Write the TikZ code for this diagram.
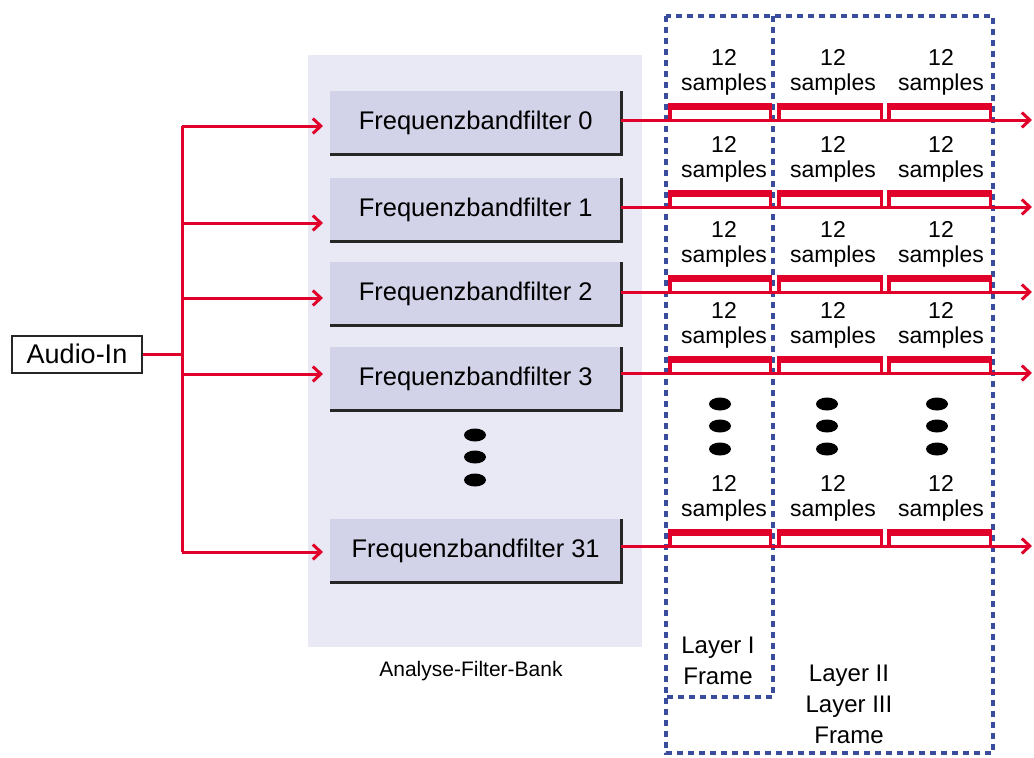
\documentclass[tikz,border=0pt]{standalone}
\usepackage{fontspec}
\setmainfont{Liberation Sans}
\usetikzlibrary{arrows.meta}
\definecolor{rd}{HTML}{E0002A}
\definecolor{bl}{HTML}{3A4C9C}
\definecolor{bankbg}{HTML}{E9E9F5}
\definecolor{filt}{HTML}{D2D2E8}
\begin{document}
\begin{tikzpicture}[x=1pt,y=-1pt,
  filterbox/.style={fill=filt, minimum width=291pt, minimum height=63pt, inner sep=0pt,
    font=\fontsize{25.5}{30}\selectfont, anchor=north west},
  shade edge/.style={draw=black!85, line width=2.2pt},
  redarrow/.style={draw=rd, line width=3pt, -{Straight Barb[length=8pt,width=15pt]}},
  redline/.style={draw=rd, line width=3pt},
  dsh/.style={draw=bl, line width=3.2pt, dash pattern=on 6pt off 5pt},
  smp/.style={align=center, font=\fontsize{23}{25}\selectfont, inner sep=0pt},
  lbl/.style={align=center, font=\fontsize{24}{31}\selectfont, inner sep=0pt},
  dot/.style={fill=black}
]
\useasboundingbox (0,0) rectangle (1034,758);
\fill[white] (0,0) rectangle (1034,758);

% filter bank background
\fill[bankbg] (308,55) rectangle (642,647);
\node[font=\fontsize{21}{25}\selectfont, inner sep=0pt] (banklbl) at (471,671) {Analyse-Filter-Bank};

% filter boxes
\node[filterbox] (f0) at (330,91) {Frequenzbandfilter 0};
\node[filterbox] (f1) at (330,178) {Frequenzbandfilter 1};
\node[filterbox] (f2) at (330,262) {Frequenzbandfilter 2};
\node[filterbox] (f3) at (330,347) {Frequenzbandfilter 3};
\node[filterbox] (f31) at (330,519) {Frequenzbandfilter 31};
\foreach \f in {f0,f1,f2,f3,f31}{
  \draw[shade edge] (\f.north east) -- (\f.south east) -- (\f.south west);
}

% dots in bank
\foreach \yy in {435,457,480}{
  \fill[dot] (475,\yy) ellipse [x radius=11pt, y radius=6.5pt];
}

% audio in
\node[draw=black!85, line width=2pt, minimum width=130pt, minimum height=37pt, inner sep=0pt,
  font=\fontsize{27}{30}\selectfont] (audio) at (77,354) {Audio-In};
\coordinate (split) at (182,354);
\coordinate (stop) at (182,126);
\coordinate (sbot) at (182,552);
\draw[redline] (audio.east) -- (split);
\draw[redline] (stop) -- (sbot);
\draw[redarrow, shorten >=7pt] (182,126) -- (f0.west |- 0,126);
\draw[redarrow, shorten >=7pt] (182,223) -- (f1.west |- 0,223);
\draw[redarrow, shorten >=7pt] (182,298) -- (f2.west |- 0,298);
\draw[redarrow, shorten >=7pt] (182,374) -- (f3.west |- 0,374);
\draw[redarrow, shorten >=7pt] (sbot) -- (f31.west |- sbot);

% dashed frames
\draw[dsh] (666,16) rectangle (993,753);
\draw[dsh] (773,16) -- (773,697) -- (666,697);

% sample brackets and labels
\foreach \L/\f in {120/f0,207/f1,292/f2,373/f3,546/f31}{
  \foreach \a/\b/\c in {668/772/724,777/883/833,887/992/941}{
    \fill[rd] (\a,\L-17) rectangle (\b,\L-10);
    \draw[rd, line width=3.5pt] (\a+1.75,\L-11) -- (\a+1.75,\L);
    \draw[rd, line width=3.5pt] (\b-1.75,\L-11) -- (\b-1.75,\L);
    \node[smp] at (\c,\L-48) {12\\samples};
  }
  \draw[redarrow] (\f.east |- 0,\L) -- (1032,\L);
}

% dots in frames
\foreach \xx in {720,827,937}{
  \foreach \yy in {404,426,449}{
    \fill[dot] (\xx,\yy) ellipse [x radius=11pt, y radius=6.5pt];
  }
}

\node[lbl] (l1) at (718,661) {Layer I\\Frame};
\node[lbl] (l23) at (849,704) {Layer II\\Layer III\\Frame};
\end{tikzpicture}
\end{document}
